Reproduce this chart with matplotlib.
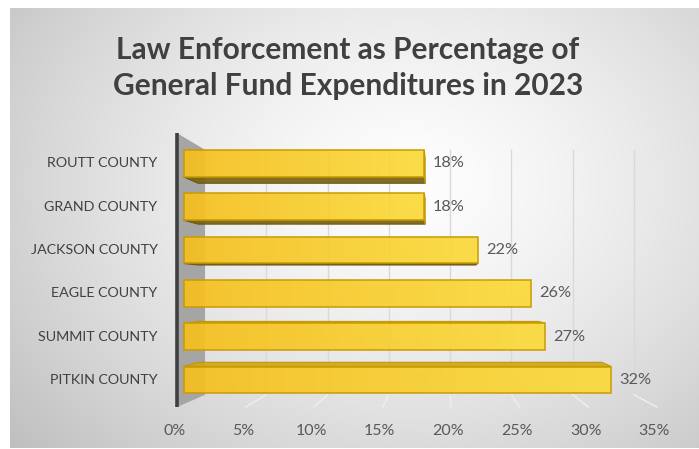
import matplotlib
matplotlib.use('Agg')
import numpy as np
import matplotlib.pyplot as plt
from matplotlib.patches import Polygon
from matplotlib.colors import to_rgb

counties = ['ROUTT COUNTY', 'GRAND COUNTY', 'JACKSON COUNTY',
            'EAGLE COUNTY', 'SUMMIT COUNTY', 'PITKIN COUNTY']
values = [18, 18, 22, 26, 27, 32]
ticks = [0, 5, 10, 15, 20, 25, 30, 35]
title = 'Law Enforcement as Percentage of\nGeneral Fund Expenditures in 2023'

plt.rcParams['font.family'] = ['Lato', 'DejaVu Sans']

W, H = 699, 449
fig = plt.figure(figsize=(W / 100, H / 100), dpi=100)
fig.patch.set_facecolor('white')

# chart area with a soft radial gradient
bg = fig.add_axes([10 / W, 1 - 448 / H, 689 / W, 440 / H])
yy, xx = np.mgrid[0:440, 0:689]
r = np.sqrt(((xx - 400) / 470.0) ** 2 + ((yy - 175) / 360.0) ** 2)
shade = 0.995 - 0.21 * np.clip(r, 0, 1.3) ** 1.4
bg.imshow(np.dstack([shade] * 3), aspect='auto', interpolation='bilinear')
bg.set_axis_off()

# main axes: x in percent, y in category units (0 = top bar)
ax = fig.add_axes([0, 0, 1, 1])
ax.patch.set_alpha(0)
x0_px, x_per = 177.0, 13.71
y0_px, y_per = 160.2, 44.4
ax.set_xlim(-x0_px / x_per, (W - x0_px) / x_per)
ax.set_ylim((H - y0_px) / y_per, -y0_px / y_per)
ax.set_axis_off()

VP = (19.3, 2.95)   # vanishing point
K = 0.106           # shrink of the back wall


def proj(x, y, z):
    s = 1 - K * z
    return VP[0] + (x - VP[0]) * s, VP[1] + (y - VP[1]) * s


wall_top, wall_bot = -0.61, 5.56
z_front, z_back = 0.236, 0.75
half = 0.31

# back wall gridlines and floor lines
for t in ticks[1:]:
    xa, ya = proj(t, wall_top, 1)
    xb, yb = proj(t, wall_bot, 1)
    ax.plot([xa, xb], [ya, yb], color='#d9d9d9', lw=1, zorder=1)
    xf, yf = proj(t, wall_bot, 0)
    ax.plot([xb, xf], [yb, yf], color='#efefef', lw=1, zorder=1)

# left side wall
side = [proj(0, wall_top, 0), proj(0, wall_top, 1),
        proj(0, wall_bot, 1), proj(0, wall_bot, 0)]
ax.add_patch(Polygon(side, closed=True, facecolor='#a5a5a5',
                     edgecolor='none', zorder=2))
ax.plot([0, 0], [wall_top, wall_bot], color='#404040', lw=2.6,
        solid_capstyle='butt', zorder=3)

# 3d bars
c_left = np.array(to_rgb('#f6c01e'))
c_right = np.array(to_rgb('#fbda3a'))
grad = np.linspace(0, 1, 64)[:, None] * (c_right - c_left) + c_left
grad = grad[None, :, :]

for i, v in enumerate(values):
    top, bot = i - half, i + half
    if top > VP[1]:
        face = [proj(0, top, z_front), proj(v, top, z_front),
                proj(v, top, z_back), proj(0, top, z_back)]
        ax.add_patch(Polygon(face, closed=True, facecolor='#d3a614',
                             edgecolor='#bf9400', lw=0.8, alpha=0.92, zorder=4))
    if bot < VP[1]:
        face = [proj(0, bot, z_front), proj(v, bot, z_front),
                proj(v, bot, z_back), proj(0, bot, z_back)]
        ax.add_patch(Polygon(face, closed=True, facecolor='#7a6212',
                             edgecolor='#6a5410', lw=0.8, alpha=0.92, zorder=4))
    if v < VP[0]:
        face = [proj(v, top, z_front), proj(v, top, z_back),
                proj(v, bot, z_back), proj(v, bot, z_front)]
        ax.add_patch(Polygon(face, closed=True, facecolor='#dcab10',
                             edgecolor='#bf9400', lw=0.8, alpha=0.92, zorder=4))

    front = [proj(0, top, z_front), proj(v, top, z_front),
             proj(v, bot, z_front), proj(0, bot, z_front)]
    fp = Polygon(front, closed=True, facecolor='none',
                 edgecolor='#c89c00', lw=1.1, zorder=6)
    ax.add_patch(fp)
    (xl, yt), (xr, _), (_, yb), _ = front
    im = ax.imshow(grad, extent=[xl, xr, yb, yt], aspect='auto',
                   interpolation='bilinear', alpha=0.92, zorder=5)
    im.set_clip_path(fp)

    xe, ye = proj(v, i, z_front)
    ax.annotate(f'{v}%', (xe, ye), xytext=(6, 0), textcoords='offset points',
                ha='left', va='center', fontsize=11.8, color='#595959', zorder=7)

# category labels
for i, name in enumerate(counties):
    xc, yc = proj(0, i, z_front)
    ax.annotate(name, (0, yc), xytext=(-14, 0), textcoords='offset points',
                ha='right', va='center', fontsize=10.3, color='#404040')

# percent axis labels
for t in ticks:
    xt, yt = proj(t, wall_bot, 0)
    ax.annotate(f'{t}%', (xt, yt), xytext=(-2, -17), textcoords='offset points',
                ha='center', va='center', fontsize=11.5, color='#595959')

fig.text(348 / W, 1 - 68 / H, title, ha='center', va='center',
         fontsize=21.5, fontweight='bold', color='#404040', linespacing=1.36)

fig.savefig('out.png', dpi=100)
